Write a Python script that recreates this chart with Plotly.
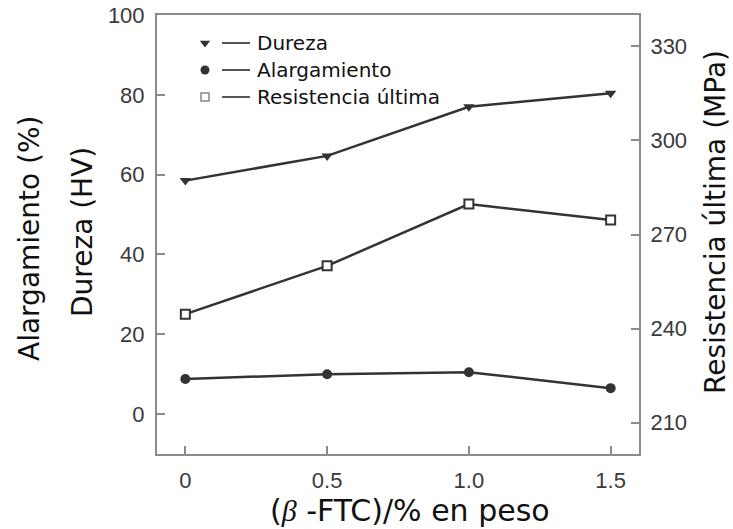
import plotly.graph_objects as go

# Contenido de beta-FTC (% en peso) y propiedades medidas
contenido = [0, 0.5, 1.0, 1.5]
dureza = [58.5, 64.7, 77.0, 80.4]          # HV
alargamiento = [8.8, 10.0, 10.5, 6.5]      # %
resistencia = [244.6, 260.0, 279.7, 274.6]  # MPa

x_tickvals = [0, 0.5, 1.0, 1.5]
x_ticktext = ["0", "0.5", "1.0", "1.5"]
left_tickvals = [0, 20, 40, 60, 80, 100]
right_tickvals = [210, 240, 270, 300, 330]

series_names = ["Dureza", "Alargamiento", "Resistencia última"]

LINE = "#333333"
AXIS = "#8c8c8c"
TICKFONT = dict(family="Liberation Sans, Arial", size=22, color="#3a3a3a")


def title_font(size):
    return dict(family="DejaVu Sans", size=size, color="#111111")


# plot area in pixels
L, R, T, B = 157, 639, 15, 454
W, H = 733, 529

fig = go.Figure()

line_style = dict(color=LINE, width=2.5)
fig.add_trace(go.Scatter(
    x=contenido, y=dureza, mode="lines+markers", line=line_style,
    marker=dict(symbol="triangle-down", size=10, color=LINE),
    xaxis="x", yaxis="y", showlegend=False, cliponaxis=False))
fig.add_trace(go.Scatter(
    x=contenido, y=alargamiento, mode="lines+markers", line=line_style,
    marker=dict(symbol="circle", size=10, color=LINE),
    xaxis="x", yaxis="y", showlegend=False, cliponaxis=False))
fig.add_trace(go.Scatter(
    x=contenido, y=resistencia, mode="lines+markers", line=line_style,
    marker=dict(symbol="square", size=9, color="white",
                line=dict(color=LINE, width=2)),
    xaxis="x", yaxis="y2", showlegend=False, cliponaxis=False))

# Leyenda dibujada a mano: simbolo, segmento y texto (ejes auxiliares en pixeles)
legend_rows = [43, 70, 97]
legend_markers = [
    dict(symbol="triangle-down", size=9, color=LINE),
    dict(symbol="circle", size=9, color=LINE),
    dict(symbol="square", size=8, color="white", line=dict(color="#888888", width=1.5)),
]
for row, mk, name in zip(legend_rows, legend_markers, series_names):
    fig.add_trace(go.Scatter(x=[205], y=[row], mode="markers", marker=mk,
                             xaxis="x2", yaxis="y3", showlegend=False,
                             hoverinfo="skip", cliponaxis=False))
    fig.add_trace(go.Scatter(x=[222, 250], y=[row, row], mode="lines",
                             line=dict(color="#555555", width=2),
                             xaxis="x2", yaxis="y3", showlegend=False,
                             hoverinfo="skip", cliponaxis=False))
    fig.add_annotation(x=255, y=row, xref="x2", yref="y3", text=name,
                       showarrow=False, xanchor="left", yanchor="middle",
                       font=dict(family="DejaVu Sans", size=20, color="#111111"))

common = dict(ticks="inside", ticklen=8, tickwidth=1.5, tickcolor=AXIS,
              showline=True, linecolor=AXIS, linewidth=2, showgrid=False,
              zeroline=False, tickfont=TICKFONT, automargin=False)

fig.update_layout(
    width=W, height=H,
    margin=dict(l=L, r=W - R, t=T, b=H - B, autoexpand=False),
    paper_bgcolor="white", plot_bgcolor="white",
    xaxis=dict(range=[-0.1, 1.6], tickvals=x_tickvals, ticktext=x_ticktext,
               mirror=True, ticklabelstandoff=6, **common),
    yaxis=dict(range=[-10, 100], tickvals=left_tickvals,
               ticklabelstandoff=6, **common),
    yaxis2=dict(range=[200, 340], tickvals=right_tickvals, overlaying="y",
                side="right", anchor="x", ticklabelstandoff=5, **common),
    xaxis2=dict(range=[L, R], overlaying="x", visible=False, anchor="y3",
                automargin=False),
    yaxis3=dict(range=[B, T], overlaying="y", visible=False, anchor="x2",
                automargin=False),
)

# Titulos de los ejes
fig.add_annotation(text="Alargamiento (%)", xref="paper", yref="paper",
                   x=(29 - L) / (R - L), y=(B - 238) / (B - T), textangle=-90,
                   showarrow=False, xanchor="center", yanchor="middle",
                   font=title_font(28))
fig.add_annotation(text="Dureza (HV)", xref="paper", yref="paper",
                   x=(83 - L) / (R - L), y=(B - 232) / (B - T), textangle=-90,
                   showarrow=False, xanchor="center", yanchor="middle",
                   font=title_font(28))
fig.add_annotation(text="Resistencia última (MPa)", xref="paper", yref="paper",
                   x=(715 - L) / (R - L), y=(B - 222) / (B - T), textangle=-90,
                   showarrow=False, xanchor="center", yanchor="middle",
                   font=title_font(28))
fig.add_annotation(
    text="(<span style='font-family:Liberation Serif'><i>β</i></span> -FTC)/% en peso",
    xref="paper", yref="paper",
    x=(410 - L) / (R - L), y=(B - 510) / (B - T),
    showarrow=False, xanchor="center", yanchor="middle", font=title_font(30))

fig.write_html("out.html")
